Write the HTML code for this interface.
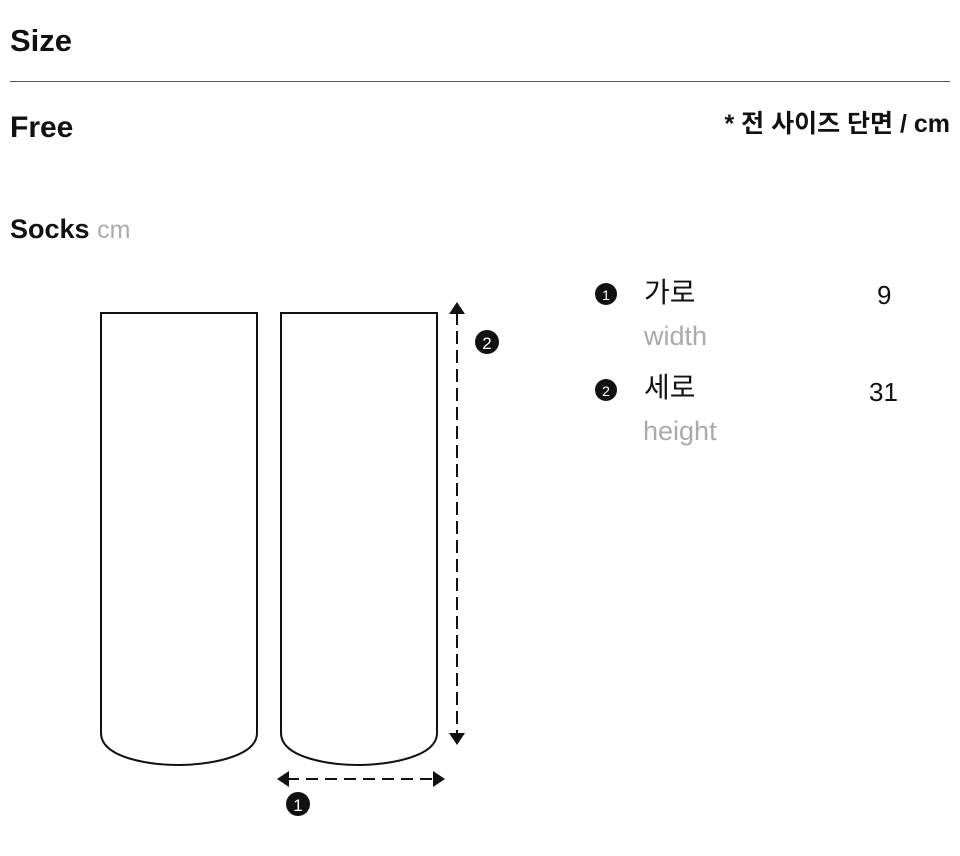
<!DOCTYPE html>
<html><head><meta charset="utf-8"><style>
body{margin:0;width:960px;height:856px;background:#fff;position:relative;font-family:"Liberation Sans","Noto Sans CJK KR",sans-serif;color:#111;overflow:hidden}
.t{position:absolute;white-space:nowrap;line-height:1}
</style></head><body>
<div class="t" style="left:10px;top:25px;font-size:31px;font-weight:bold">Size</div>
<div style="position:absolute;left:10px;top:81px;width:940px;height:1px;background:#555"></div>
<div class="t" style="left:10px;top:113px;font-size:30px;font-weight:bold">Free</div>
<div class="t" style="right:10px;top:112px;font-size:25px;font-weight:bold">* 전 사이즈 단면 / cm</div>
<div class="t" style="left:10px;top:216px;font-size:27px;font-weight:bold">Socks <span style="color:#aaa;font-weight:normal;font-size:25px">cm</span></div>
<svg width="960" height="856" style="position:absolute;left:0;top:0">
<g fill="none" stroke="#111" stroke-width="2">
<path d="M101 733 V313 H257 V733 C257 758 205 765 179 765 C150 765 101 758 101 733"/>
<path d="M281 733 V313 H437 V733 C437 758 385 765 359 765 C330 765 281 758 281 733"/>
<line x1="457" y1="312" x2="457" y2="735" stroke-dasharray="13,6"/>
<line x1="287" y1="779" x2="435" y2="779" stroke-dasharray="12,7"/>
</g>
<path d="M457 302 L449 314 H465 Z M457 745 L449 733 H465 Z M277 779 L289 771 V787 Z M445 779 L433 771 V787 Z" fill="#111"/>
<circle cx="487" cy="342" r="12" fill="#111"/>
<text x="487" y="349" font-size="17" fill="#fff" text-anchor="middle" font-family="Liberation Sans">2</text>
<circle cx="298" cy="804" r="12" fill="#111"/>
<text x="298" y="811" font-size="17" fill="#fff" text-anchor="middle" font-family="Liberation Sans">1</text>
<circle cx="606" cy="294" r="11" fill="#111"/>
<text x="606" y="300" font-size="14" fill="#fff" text-anchor="middle" font-family="Liberation Sans">1</text>
<circle cx="606" cy="390" r="11" fill="#111"/>
<text x="606" y="396" font-size="14" fill="#fff" text-anchor="middle" font-family="Liberation Sans">2</text>
</svg>
<div class="t" style="left:644px;top:279px;font-size:28px">가로</div>
<div class="t" style="left:877px;top:282px;font-size:26px">9</div>
<div class="t" style="left:644px;top:323px;font-size:27px;color:#aaa">width</div>
<div class="t" style="left:644px;top:374px;font-size:28px">세로</div>
<div class="t" style="left:869px;top:379px;font-size:26px">31</div>
<div class="t" style="left:643px;top:418px;font-size:27px;color:#aaa">height</div>
</body></html>
